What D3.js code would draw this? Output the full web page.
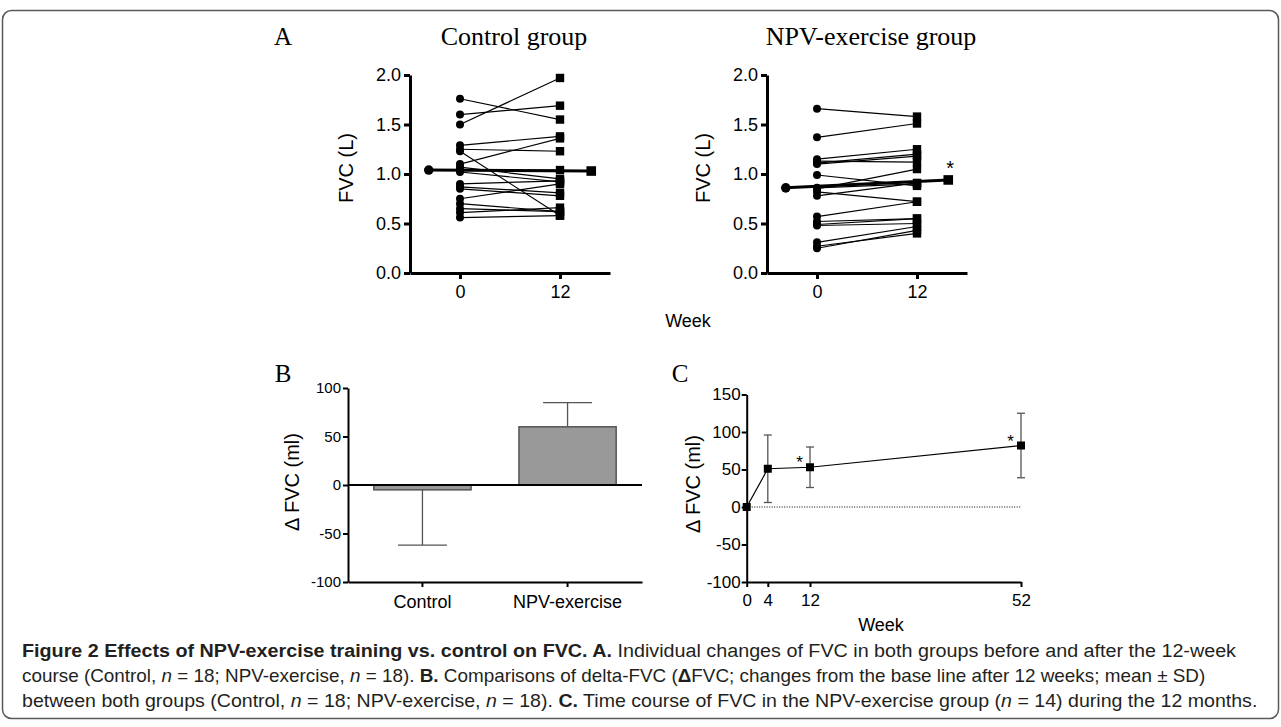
<!DOCTYPE html>
<html>
<head>
<meta charset="utf-8">
<script src="https://cdn.jsdelivr.net/npm/d3@7"></script>
<style>
  body { margin: 0; background: #fff; }
  svg { display: block; }
</style>
</head>
<body>
<div id="chart"></div>
<script>
// ---- Panel A: individual FVC (L) before / after 12 weeks ----
var weeksA = [0, 12];
var meanWeeks = [-3.75, 15.75];
var controlPre  = [1.76, 1.60, 1.50, 1.29, 1.25, 1.23, 1.10, 1.07, 1.04, 1.02, 0.90, 0.87, 0.85, 0.75, 0.70, 0.65, 0.61, 0.56];
var controlPost = [1.55, 1.69, 1.97, 1.38, 1.23, 0.58, 1.36, 0.95, 1.04, 0.92, 0.93, 0.81, 0.78, 0.90, 0.62, 0.62, 0.66, 0.58];
var npvPre  = [1.66, 1.37, 1.15, 1.13, 1.11, 1.10, 0.99, 0.86, 0.85, 0.82, 0.78, 0.57, 0.52, 0.49, 0.48, 0.31, 0.27, 0.25];
var npvPost = [1.58, 1.51, 1.25, 1.12, 1.20, 1.18, 0.88, 0.90, 1.05, 0.72, 0.91, 0.72, 0.55, 0.55, 0.50, 0.47, 0.40, 0.43];
var controlMean = [1.04, 1.03];
var npvMean = [0.86, 0.94];
var yTicksA = [0, 0.5, 1.0, 1.5, 2.0];

// ---- Panel B: delta FVC (ml), mean and SD ----
var groupsB = ["Control", "NPV-exercise"];
var deltaMeanB = [-5, 60];
var deltaSdB = [57, 25];
var yTicksB = [-100, -50, 0, 50, 100];

// ---- Panel C: time course of delta FVC (ml) ----
var weeksC = [0, 4, 12, 52];
var deltaC = [0, 51, 53, 82];
var sdC = [0, 45, 27, 43];
var starC = [false, false, true, true];
var yTicksC = [-100, -50, 0, 50, 100, 150];

var width = 1281, height = 727;
var sans = "'Liberation Sans', Arial, Helvetica, sans-serif";
var serif = "'Liberation Serif', 'Times New Roman', serif";
var plain = function (d) { return String(d); };  // hyphen minus like the original

var svg = d3.select("#chart").append("svg")
    .attr("width", width)
    .attr("height", height);

// frame
svg.append("rect")
    .attr("x", 2.5).attr("y", 10.5)
    .attr("width", 1276).attr("height", 708)
    .attr("rx", 9)
    .attr("fill", "none")
    .attr("stroke", "#58595b")
    .attr("stroke-width", 1.5);

function styleAxis(g, sw, fs) {
    g.selectAll("path, line").attr("stroke", "#000").attr("stroke-width", sw);
    g.selectAll("text").attr("fill", "#000").style("font-family", sans).style("font-size", fs + "px");
}

// ================= Panel A =================
svg.append("text")
    .attr("x", 283).attr("y", 45)
    .attr("text-anchor", "middle")
    .style("font-family", serif).style("font-size", "25px")
    .text("A");

function drawBeforeAfter(left, title, pre, post, mean, star) {
    var x = d3.scaleLinear().domain([-6, 18]).range([left, left + 200]);
    var y = d3.scaleLinear().domain([0, 2]).range([273, 75]);
    var g = svg.append("g");

    g.append("text")
        .attr("x", left + 104).attr("y", 45)
        .attr("text-anchor", "middle")
        .style("font-family", serif).style("font-size", "26px")
        .text(title);

    var ya = g.append("g")
        .attr("transform", "translate(" + left + ",0)")
        .call(d3.axisLeft(y).tickValues(yTicksA).tickFormat(d3.format(".1f"))
            .tickSize(6).tickSizeOuter(0).tickPadding(3));
    styleAxis(ya, 3, 18);

    var xa = g.append("g")
        .attr("transform", "translate(0,273)")
        .call(d3.axisBottom(x).tickValues(weeksA).tickSize(6).tickSizeOuter(0).tickPadding(6));
    styleAxis(xa, 3, 18);

    g.append("text")
        .attr("transform", "translate(" + (left - 57) + "," + 168 + ") rotate(-90)")
        .attr("text-anchor", "middle")
        .style("font-family", sans).style("font-size", "20px")
        .text("FVC (L)");

    var pairs = pre.map(function (d, i) { return [d, post[i]]; });

    g.selectAll(".pair").data(pairs).enter().append("line")
        .attr("x1", x(weeksA[0])).attr("x2", x(weeksA[1]))
        .attr("y1", function (d) { return y(d[0]); })
        .attr("y2", function (d) { return y(d[1]); })
        .attr("stroke", "#000").attr("stroke-width", 1.2);

    g.selectAll(".pre").data(pre).enter().append("circle")
        .attr("cx", x(weeksA[0]))
        .attr("cy", function (d) { return y(d); })
        .attr("r", 4);

    g.selectAll(".post").data(post).enter().append("rect")
        .attr("x", x(weeksA[1]) - 4.2)
        .attr("y", function (d) { return y(d) - 4.2; })
        .attr("width", 8.4).attr("height", 8.4);

    // group mean
    g.append("line")
        .attr("x1", x(meanWeeks[0])).attr("x2", x(meanWeeks[1]))
        .attr("y1", y(mean[0])).attr("y2", y(mean[1]))
        .attr("stroke", "#000").attr("stroke-width", 3);
    g.append("circle")
        .attr("cx", x(meanWeeks[0])).attr("cy", y(mean[0])).attr("r", 4.8);
    g.append("rect")
        .attr("x", x(meanWeeks[1]) - 4.8).attr("y", y(mean[1]) - 4.8)
        .attr("width", 9.6).attr("height", 9.6);

    if (star) {
        g.append("text")
            .attr("x", x(meanWeeks[1]) + 2).attr("y", y(mean[1]) - 5)
            .attr("text-anchor", "middle")
            .style("font-family", sans).style("font-size", "20px")
            .text("*");
    }
}

drawBeforeAfter(410, "Control group", controlPre, controlPost, controlMean, false);
drawBeforeAfter(767, "NPV-exercise group", npvPre, npvPost, npvMean, true);

svg.append("text")
    .attr("x", 688).attr("y", 327)
    .attr("text-anchor", "middle")
    .style("font-family", sans).style("font-size", "18px")
    .text("Week");

// ================= Panel B =================
svg.append("text")
    .attr("x", 283).attr("y", 382)
    .attr("text-anchor", "middle")
    .style("font-family", serif).style("font-size", "25px")
    .text("B");

var xB = d3.scaleBand().domain(groupsB).range([348, 642])
    .paddingInner(0.33).paddingOuter(0.178);
var yB = d3.scaleLinear().domain([-100, 100]).range([582, 388]);
var gB = svg.append("g");

gB.selectAll(".bar").data(groupsB).enter().append("rect")
    .attr("x", function (d) { return xB(d); })
    .attr("width", xB.bandwidth())
    .attr("y", function (d, i) { return yB(Math.max(0, deltaMeanB[i])); })
    .attr("height", function (d, i) { return Math.abs(yB(deltaMeanB[i]) - yB(0)); })
    .attr("fill", "#999999")
    .attr("stroke", "#555555")
    .attr("stroke-width", 1.5);

groupsB.forEach(function (grp, i) {
    var cx = xB(grp) + xB.bandwidth() / 2;
    var m = deltaMeanB[i];
    var end = m < 0 ? m - deltaSdB[i] : m + deltaSdB[i];
    gB.append("line")
        .attr("x1", cx).attr("x2", cx)
        .attr("y1", yB(m)).attr("y2", yB(end))
        .attr("stroke", "#555").attr("stroke-width", 1.3);
    gB.append("line")
        .attr("x1", cx - 24.5).attr("x2", cx + 24.5)
        .attr("y1", yB(end)).attr("y2", yB(end))
        .attr("stroke", "#555").attr("stroke-width", 1.3);
});

var yaB = gB.append("g").attr("transform", "translate(348,0)")
    .call(d3.axisLeft(yB).tickValues(yTicksB).tickFormat(plain)
        .tickSize(5).tickSizeOuter(0).tickPadding(2));
styleAxis(yaB, 2, 15);

var xaB = gB.append("g").attr("transform", "translate(0,582)")
    .call(d3.axisBottom(xB).tickSize(5).tickSizeOuter(0).tickPadding(8));
styleAxis(xaB, 2, 18);

gB.append("line")
    .attr("x1", 348).attr("x2", 642)
    .attr("y1", yB(0)).attr("y2", yB(0))
    .attr("stroke", "#000").attr("stroke-width", 2);

gB.append("text")
    .attr("transform", "translate(299,482) rotate(-90)")
    .attr("text-anchor", "middle")
    .style("font-family", sans).style("font-size", "20px")
    .text("\u0394 FVC (ml)");

// ================= Panel C =================
svg.append("text")
    .attr("x", 680).attr("y", 382)
    .attr("text-anchor", "middle")
    .style("font-family", serif).style("font-size", "25px")
    .text("C");

var xC = d3.scaleLinear().domain([0, 52]).range([746.7, 1021]);
var yC = d3.scaleLinear().domain([-100, 150]).range([582, 394.5]);
var gC = svg.append("g");

gC.append("line")
    .attr("x1", xC(0)).attr("x2", xC(52))
    .attr("y1", yC(0)).attr("y2", yC(0))
    .attr("stroke", "#000").attr("stroke-width", 1)
    .attr("stroke-dasharray", "1,1.5");

var yaC = gC.append("g").attr("transform", "translate(746.7,0)")
    .call(d3.axisLeft(yC).tickValues(yTicksC).tickFormat(plain)
        .tickSize(5).tickSizeOuter(0).tickPadding(1));
styleAxis(yaC, 2, 17);

var xaC = gC.append("g").attr("transform", "translate(0,582)")
    .call(d3.axisBottom(xC).tickValues(weeksC).tickSize(5).tickSizeOuter(0).tickPadding(7));
styleAxis(xaC, 2, 17);

weeksC.forEach(function (w, i) {
    if (sdC[i] === 0) return;
    var cx = xC(w);
    gC.append("line")
        .attr("x1", cx).attr("x2", cx)
        .attr("y1", yC(deltaC[i] - sdC[i])).attr("y2", yC(deltaC[i] + sdC[i]))
        .attr("stroke", "#555").attr("stroke-width", 1.3);
    [deltaC[i] - sdC[i], deltaC[i] + sdC[i]].forEach(function (v) {
        gC.append("line")
            .attr("x1", cx - 4).attr("x2", cx + 4)
            .attr("y1", yC(v)).attr("y2", yC(v))
            .attr("stroke", "#555").attr("stroke-width", 1.3);
    });
});

gC.append("path")
    .datum(weeksC.map(function (w, i) { return [w, deltaC[i]]; }))
    .attr("fill", "none").attr("stroke", "#000").attr("stroke-width", 1.2)
    .attr("d", d3.line()
        .x(function (d) { return xC(d[0]); })
        .y(function (d) { return yC(d[1]); }));

gC.selectAll(".pt").data(weeksC).enter().append("rect")
    .attr("x", function (d) { return xC(d) - 4; })
    .attr("y", function (d, i) { return yC(deltaC[i]) - 4; })
    .attr("width", 8).attr("height", 8);

weeksC.forEach(function (w, i) {
    if (!starC[i]) return;
    gC.append("text")
        .attr("x", xC(w) - 10.5).attr("y", yC(deltaC[i]) + 1)
        .attr("text-anchor", "middle")
        .style("font-family", sans).style("font-size", "17px")
        .text("*");
});

gC.append("text")
    .attr("transform", "translate(700,484) rotate(-90)")
    .attr("text-anchor", "middle")
    .style("font-family", sans).style("font-size", "20px")
    .text("\u0394 FVC (ml)");

gC.append("text")
    .attr("x", 881).attr("y", 631)
    .attr("text-anchor", "middle")
    .style("font-family", sans).style("font-size", "18px")
    .text("Week");

// ================= Caption =================
var captionLines = [
    { y: 657, w: 1215, parts: [
        ["b", "Figure 2 Effects of NPV-exercise training vs. control on FVC. A."],
        ["n", " Individual changes of FVC in both groups before and after the 12-week"]] },
    { y: 682, w: 1184, parts: [
        ["n", "course (Control, "], ["i", "n"], ["n", " = 18; NPV-exercise, "], ["i", "n"], ["n", " = 18). "],
        ["b", "B."], ["n", " Comparisons of delta-FVC ("], ["b", "\u0394"],
        ["n", "FVC; changes from the base line after 12 weeks; mean \u00b1 SD)"]] },
    { y: 707, w: 1236, parts: [
        ["n", "between both groups (Control, "], ["i", "n"], ["n", " = 18; NPV-exercise, "], ["i", "n"], ["n", " = 18). "],
        ["b", "C."], ["n", " Time course of FVC in the NPV-exercise group ("], ["i", "n"],
        ["n", " = 14) during the 12 months."]] }
];

captionLines.forEach(function (line) {
    var t = svg.append("text")
        .attr("x", 0).attr("y", 0)
        .style("font-family", "'Liberation Sans Narrow', 'Liberation Sans', Arial, sans-serif")
        .style("font-size", "18px")
        .attr("fill", "#231f20")
        .style("white-space", "pre");
    line.parts.forEach(function (p) {
        t.append("tspan")
            .style("font-weight", p[0] === "b" ? "bold" : "normal")
            .style("font-style", p[0] === "i" ? "italic" : "normal")
            .text(p[1]);
    });
    var w = t.node().getComputedTextLength();
    var k = line.w / w;
    t.attr("transform", "translate(22," + line.y + ") scale(" + k + ",1)");
});
</script>
</body>
</html>
